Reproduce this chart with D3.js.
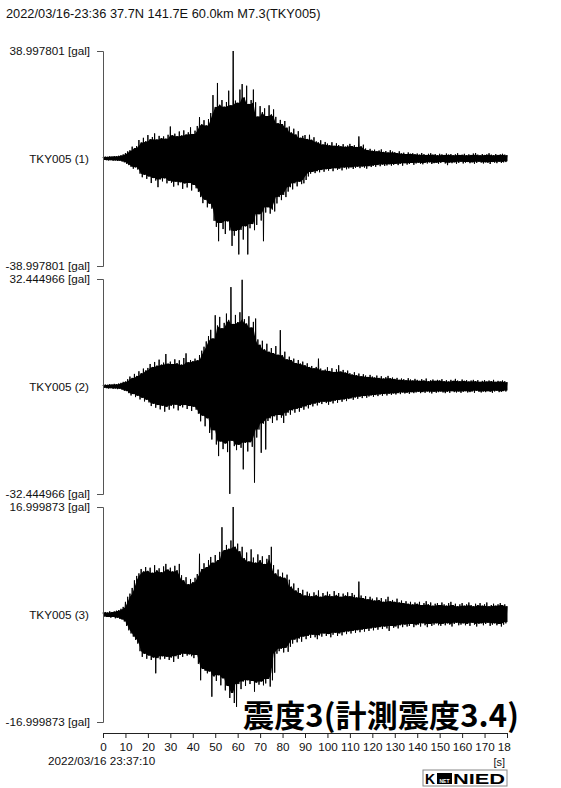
<!DOCTYPE html>
<html>
<head>
<meta charset="utf-8">
<script src="https://cdnjs.cloudflare.com/ajax/libs/d3/7.8.5/d3.min.js"></script>
<style>
  body { margin: 0; background: #fff; }
  svg text { font-family: "Liberation Sans", Arial, sans-serif; fill: #111; }
</style>
</head>
<body>
<div id="chart"></div>
<script>
// header + labels
let titleText = "2022/03/16-23:36 37.7N 141.7E 60.0km M7.3(TKY005)";
let startTime = "2022/03/16 23:37:10";
let intensityText = "震度3(計測震度3.4)";
let channelNames = ["TKY005 (1)", "TKY005 (2)", "TKY005 (3)"];
let channelMax = [38.997801, 32.444966, 16.999873];
let xTicks = [0, 10, 20, 30, 40, 50, 60, 70, 80, 90, 100, 110, 120, 130, 140, 150, 160, 170, 180];

// envelope per second (gal): upper peak and lower peak in each 1 s
let ch1Up = [
  0.5,0.7,0.6,0.8,0.7,0.9,0.8,1.0,1.2,1.5,
  2.0,2.6,3.0,4.3,3.8,4.5,6.7,5.8,7.5,6.2,
  8.5,7.0,7.8,9.1,6.9,8.2,7.4,8.0,7.2,8.6,
  11.6,8.4,9.0,8.1,9.8,8.3,10.2,8.7,9.5,11.3,
  8.9,10.1,11.8,15.0,12.4,13.9,12.0,14.3,16.5,23.0,
  18.7,27.4,19.5,21.2,18.8,20.5,24.6,19.3,39.0,21.0,
  20.2,25.0,27.0,22.1,26.4,19.8,21.2,25.0,20.4,15.2,
  19.0,16.8,18.2,15.4,19.3,16.0,17.8,15.1,12.8,14.0,
  12.5,13.6,11.2,11.6,9.4,10.8,8.7,9.9,7.5,8.2,
  8.5,7.1,8.6,6.8,7.7,6.2,5.8,6.6,5.1,6.0,
  5.4,4.8,5.9,4.6,5.5,4.9,4.4,5.2,4.3,4.7,
  5.3,4.5,4.8,4.2,8.0,4.4,5.0,3.6,3.1,3.5,
  2.8,3.2,2.6,2.9,3.3,2.4,2.7,2.2,3.0,2.5,
  2.3,2.0,2.6,1.8,2.1,1.6,2.2,1.7,1.9,1.5,
  1.8,1.4,2.0,1.6,1.3,1.7,1.9,1.4,1.6,1.2,
  1.7,1.5,1.3,1.8,1.4,1.6,1.2,1.5,1.9,1.3,
  1.4,1.7,1.2,1.5,1.3,1.8,2.0,1.4,1.2,1.6,
  1.3,1.5,1.9,1.4,1.2,1.6,1.3,1.5,1.7,1.4,
  1.2
];
let ch1Low = [
  -0.5,-0.6,-0.7,-0.6,-0.8,-0.7,-0.9,-0.8,-1.1,-1.4,
  -1.9,-2.4,-3.0,-3.7,-3.2,-4.0,-5.5,-6.8,-5.9,-7.4,
  -6.5,-8.9,-7.1,-8.0,-10.4,-7.6,-8.3,-7.2,-9.0,-8.1,
  -8.8,-10.2,-8.4,-9.7,-8.6,-11.0,-9.1,-10.5,-8.9,-11.6,
  -9.6,-10.8,-12.1,-14.0,-16.2,-15.0,-17.7,-16.4,-18.2,-22.6,
  -24.8,-30.0,-23.4,-25.6,-27.4,-22.8,-26.1,-31.7,-28.0,-26.3,
  -34.8,-25.9,-29.4,-24.6,-34.8,-25.3,-23.8,-26.0,-24.1,-20.2,
  -22.5,-30.0,-19.6,-17.7,-20.0,-18.5,-19.2,-16.3,-14.0,-15.1,
  -13.2,-14.0,-12.0,-10.4,-11.2,-9.0,-10.1,-8.4,-9.3,-9.0,
  -7.8,-6.5,-5.5,-4.9,-5.3,-4.6,-5.0,-4.2,-4.8,-3.9,
  -4.4,-3.8,-4.6,-3.5,-4.1,-3.7,-4.3,-3.3,-3.9,-3.6,
  -3.2,-3.8,-3.4,-3.0,-3.5,-2.9,-3.3,-3.7,-2.8,-3.1,
  -2.6,-3.0,-2.4,-2.8,-2.2,-2.7,-2.5,-2.1,-2.6,-2.3,
  -2.0,-2.4,-1.9,-2.6,-1.7,-2.2,-2.0,-1.6,-2.3,-1.8,
  -1.5,-1.9,-2.1,-1.6,-1.8,-1.4,-2.0,-1.7,-1.5,-1.9,
  -1.6,-1.3,-1.8,-2.4,-1.5,-1.7,-1.4,-1.9,-1.6,-1.2,
  -1.8,-1.5,-1.3,-1.7,-1.4,-1.9,-1.6,-1.2,-1.5,-1.8,
  -1.4,-1.6,-2.0,-1.3,-1.5,-1.7,-1.2,-1.6,-1.4,-1.3,
  -1.0
];
let ch2Up = [
  0.4,0.6,0.5,0.7,0.6,0.8,0.7,0.9,1.1,1.4,
  1.5,2.2,3.0,2.6,3.8,3.2,4.6,4.0,5.4,4.8,
  5.6,6.8,5.9,7.4,6.3,8.1,6.6,7.2,9.8,6.9,
  7.5,6.8,8.2,7.0,7.9,6.6,8.6,10.0,7.3,8.0,
  7.6,8.4,7.9,9.5,10.8,12.0,13.6,15.2,17.1,14.5,
  21.5,18.4,21.0,17.6,19.2,22.0,20.1,30.0,18.9,21.6,
  19.4,22.4,32.2,20.3,19.0,21.2,17.8,19.5,20.5,14.2,
  12.6,13.8,11.2,12.9,10.5,11.6,10.1,12.2,9.6,17.0,
  9.4,10.5,8.2,9.0,8.0,8.4,7.1,8.0,6.9,7.5,
  6.4,7.0,5.9,6.2,5.5,5.9,8.4,5.4,4.8,5.1,
  5.8,4.7,5.5,4.4,5.2,6.4,4.5,5.0,4.2,4.8,
  4.0,3.6,4.3,3.4,3.9,3.1,3.7,3.3,2.9,3.5,
  3.0,2.7,3.3,2.6,3.1,2.4,2.8,3.2,2.5,2.7,
  2.3,2.6,2.0,2.4,2.2,1.9,2.5,2.1,1.8,2.3,
  2.0,1.7,2.2,1.8,2.4,1.6,1.9,2.1,1.7,2.0,
  1.8,2.2,1.6,1.9,1.5,2.0,1.7,2.3,1.8,1.6,
  2.1,1.7,1.9,1.5,1.8,2.0,1.6,1.9,1.4,1.7,
  1.9,1.5,1.8,1.6,2.0,1.4,1.7,1.5,1.8,1.6,
  1.3
];
let ch2Low = [
  -0.4,-0.5,-0.6,-0.5,-0.7,-0.6,-0.8,-0.7,-1.0,-1.3,
  -1.4,-2.0,-2.7,-2.3,-3.2,-2.8,-3.9,-3.4,-4.5,-4.0,
  -4.8,-5.9,-5.2,-6.4,-5.6,-6.9,-5.8,-7.6,-6.2,-7.0,
  -5.8,-6.6,-5.5,-7.2,-5.9,-6.3,-5.6,-6.8,-5.9,-7.4,
  -6.1,-7.0,-8.2,-10.5,-8.8,-12.0,-9.6,-14.0,-16.0,-13.2,
  -17.5,-21.0,-16.6,-18.9,-17.2,-19.8,-32.4,-16.4,-18.0,-19.2,
  -17.6,-18.5,-25.0,-17.0,-19.6,-16.8,-18.2,-29.0,-15.4,-13.0,
  -20.0,-11.2,-19.0,-10.4,-9.6,-11.0,-9.0,-10.2,-8.6,-9.4,
  -11.0,-8.8,-7.9,-8.5,-7.2,-7.9,-6.8,-7.6,-6.5,-7.0,
  -6.0,-6.6,-5.6,-6.0,-5.2,-5.7,-4.9,-5.3,-4.6,-5.0,
  -5.5,-4.6,-5.1,-4.3,-4.9,-4.1,-4.6,-3.9,-4.4,-3.8,
  -3.6,-4.0,-3.3,-3.7,-3.1,-3.5,-2.9,-3.4,-3.0,-2.7,
  -3.1,-2.6,-2.9,-2.4,-2.8,-2.3,-2.7,-2.2,-2.5,-2.1,
  -2.4,-2.0,-2.3,-1.8,-2.1,-1.9,-2.2,-1.7,-2.0,-1.8,
  -1.6,-2.0,-1.7,-1.9,-1.5,-1.8,-2.1,-1.6,-1.9,-1.7,
  -1.5,-1.8,-2.0,-1.6,-1.9,-1.4,-1.7,-1.8,-1.5,-1.9,
  -1.6,-1.4,-1.8,-1.7,-1.5,-1.9,-1.3,-1.6,-1.8,-1.5,
  -1.7,-1.4,-1.6,-1.9,-1.5,-1.3,-1.7,-1.6,-1.4,-1.5,
  -1.2
];
let ch3Up = [
  0.3,0.4,0.3,0.5,0.4,0.5,0.6,0.7,0.9,1.2,
  2.0,2.8,3.3,4.2,5.4,6.1,6.5,7.2,6.8,7.5,
  6.9,7.4,6.6,7.8,7.0,7.3,6.7,7.6,8.0,7.1,
  7.4,6.8,7.7,7.0,8.0,6.2,5.4,5.9,4.8,5.6,
  5.1,5.8,6.4,9.6,7.2,8.1,7.5,8.6,9.1,8.2,
  9.4,8.6,9.9,13.8,10.2,11.0,10.4,11.7,17.0,10.7,
  11.2,10.0,10.7,8.9,9.8,8.4,10.3,9.0,8.2,9.5,
  8.6,9.2,8.0,8.8,9.4,10.7,7.8,6.5,7.1,6.0,
  6.6,5.8,6.3,5.5,4.4,4.9,3.8,4.2,3.4,3.9,
  3.0,3.6,3.3,2.9,3.5,3.1,3.8,2.8,3.4,3.0,
  3.6,3.2,2.9,3.7,3.1,3.4,2.8,3.3,3.0,3.5,
  2.9,3.4,3.1,2.7,5.2,3.0,2.6,2.9,2.4,2.8,
  2.5,2.2,2.7,2.3,2.6,2.0,2.4,2.8,2.1,2.3,
  2.0,2.5,1.9,2.2,1.8,2.1,1.7,2.0,1.6,1.9,
  1.7,2.0,1.5,1.8,2.1,1.6,1.9,1.4,1.7,1.8,
  1.5,1.9,1.6,1.4,1.8,2.0,1.5,1.7,1.3,1.6,
  1.8,1.4,1.6,1.9,1.5,1.3,1.7,1.5,1.8,1.4,
  1.6,1.9,1.3,1.5,1.7,1.4,1.6,1.8,1.5,1.6,
  1.3
];
let ch3Low = [
  -0.3,-0.4,-0.4,-0.5,-0.4,-0.6,-0.5,-0.7,-0.8,-1.1,
  -1.8,-2.5,-3.0,-3.5,-4.0,-4.6,-5.8,-6.7,-6.2,-7.0,
  -6.5,-7.2,-6.8,-9.3,-6.9,-7.1,-6.6,-7.0,-6.7,-7.2,
  -6.8,-7.5,-6.6,-7.0,-6.4,-6.7,-6.2,-6.5,-6.3,-6.6,
  -6.9,-6.4,-7.8,-10.4,-8.6,-8.9,-9.3,-9.0,-13.0,-9.8,
  -10.5,-9.6,-11.2,-10.1,-12.0,-11.3,-13.2,-12.4,-14.0,-14.6,
  -11.0,-11.8,-10.6,-11.3,-10.4,-11.0,-10.5,-12.2,-10.8,-11.1,
  -10.6,-11.2,-10.9,-10.2,-11.4,-10.4,-9.2,-6.2,-5.8,-5.4,
  -6.0,-5.3,-5.9,-5.1,-4.6,-4.0,-4.4,-3.8,-4.3,-3.5,
  -3.9,-3.4,-3.7,-3.2,-3.6,-3.9,-3.3,-3.5,-3.0,-3.4,
  -3.1,-3.6,-3.2,-2.9,-3.4,-3.0,-3.3,-2.8,-3.1,-2.7,
  -3.0,-2.6,-2.9,-2.5,-2.8,-2.4,-2.7,-2.3,-2.6,-2.2,
  -2.5,-2.1,-2.4,-2.0,-2.3,-1.9,-2.2,-2.6,-1.8,-2.1,
  -1.9,-2.2,-1.7,-2.0,-1.6,-1.9,-1.8,-1.5,-2.0,-1.7,
  -1.6,-1.9,-1.4,-1.7,-2.0,-1.5,-1.8,-1.6,-1.4,-1.7,
  -1.8,-1.5,-1.7,-1.4,-1.6,-1.9,-1.5,-1.3,-1.7,-1.6,
  -1.4,-1.7,-1.5,-1.8,-1.3,-1.6,-1.9,-1.5,-1.4,-1.7,
  -1.5,-1.3,-1.8,-1.6,-1.4,-1.7,-1.5,-1.9,-1.6,-1.4,
  -1.2
];

let upSeries = [ch1Up, ch2Up, ch3Up];
let lowSeries = [ch1Low, ch2Low, ch3Low];

let width = 561;
let height = 788;
let plotLeft = 103;
let plotRight = 507;
let panelTop = [51, 279, 507];
let panelH = 215;
let axisY = 733;
let labelSize = 11.7;

let svg = d3
  .select("#chart")
  .append("svg")
  .attr("width", width)
  .attr("height", height);

svg.append("text")
  .attr("x", 6)
  .attr("y", 18)
  .attr("font-size", 12.8)
  .text(titleText);

let xScale = d3.scaleLinear().domain([0, 180]).range([plotLeft, plotRight]);

// smallest peak among neighbours: the dense core under the spikes
function coreOf(arr, k, pick) {
  let win = arr.slice(Math.max(0, k - 1), Math.min(arr.length, k + 2));
  return pick(win);
}

// one trace per component
upSeries.forEach(function (up, i) {
  let top = panelTop[i];
  let low = lowSeries[i];
  let yScale = d3
    .scaleLinear()
    .domain([-channelMax[i], channelMax[i]])
    .range([top + panelH, top]);

  let body = d3.area()
    .x(function (d, k) { return xScale(k); })
    .y0(function (d, k) { return yScale(coreOf(low, k, d3.max)); })
    .y1(function (d, k) { return yScale(coreOf(up, k, d3.min)); });

  svg.append("path")
    .datum(up)
    .attr("d", body)
    .attr("fill", "#000");

  // zig-zag between the upper and lower peaks for the spiky edge
  let pts = [];
  up.forEach(function (v, k) {
    pts.push([k, v]);
    pts.push([Math.min(k + 0.5, 180), low[k]]);
  });

  let line = d3.line()
    .x(function (d) { return xScale(d[0]); })
    .y(function (d) { return yScale(d[1]); });

  svg.append("path")
    .datum(pts)
    .attr("d", line)
    .attr("fill", "none")
    .attr("stroke", "#000")
    .attr("stroke-width", 1)
    .attr("stroke-linejoin", "bevel");

  let yAxis = d3.axisLeft(yScale)
    .tickValues([-channelMax[i], channelMax[i]])
    .tickSize(6)
    .tickSizeOuter(6)
    .tickPadding(7)
    .tickFormat(function (d) { return d.toFixed(6) + " [gal]"; });

  let g = svg.append("g")
    .attr("transform", "translate(" + plotLeft + ",0)")
    .call(yAxis);
  g.select(".domain").attr("stroke", "#555");
  g.selectAll(".tick line").attr("stroke", "#555");
  g.selectAll(".tick text")
    .attr("font-size", labelSize)
    .attr("fill", "#111");

  svg.append("text")
    .attr("x", 89)
    .attr("y", yScale(0))
    .attr("dy", "0.35em")
    .attr("text-anchor", "end")
    .attr("font-size", labelSize)
    .text(channelNames[i]);
});

// time axis
svg.append("clipPath").attr("id", "axisClip")
  .append("rect").attr("x", 0).attr("y", 0).attr("width", 511).attr("height", height);

let xAxis = d3.axisBottom(xScale)
  .tickValues(xTicks)
  .tickSize(5)
  .tickSizeOuter(0)
  .tickPadding(5);

let xg = svg.append("g")
  .attr("transform", "translate(0," + axisY + ")")
  .attr("clip-path", "url(#axisClip)")
  .call(xAxis);
xg.select(".domain").attr("stroke", "#222");
xg.selectAll(".tick line").attr("stroke", "#222");
xg.selectAll(".tick text")
  .attr("font-size", labelSize)
  .attr("fill", "#111");

svg.append("text")
  .attr("x", 48)
  .attr("y", 765)
  .attr("font-size", labelSize)
  .text(startTime);

svg.append("text")
  .attr("x", 505)
  .attr("y", 766)
  .attr("text-anchor", "end")
  .attr("font-size", 11)
  .text("[s]");

// seismic intensity caption
svg.append("text")
  .attr("x", 243)
  .attr("y", 727)
  .attr("font-size", 31)
  .attr("font-weight", 700)
  .attr("textLength", 276)
  .style("font-family", "'Noto Sans CJK JP', 'Noto Sans CJK SC', sans-serif")
  .style("fill", "#000")
  .text(intensityText);

// K-NET NIED logo
let logo = svg.append("g");
logo.append("rect")
  .attr("x", 423).attr("y", 770).attr("width", 84).attr("height", 16)
  .attr("fill", "none").attr("stroke", "#888").attr("stroke-width", 1);
logo.append("text")
  .attr("x", 425).attr("y", 784)
  .attr("font-size", 14).attr("font-weight", 700)
  .style("fill", "#000")
  .text("K");
logo.append("rect")
  .attr("x", 437).attr("y", 773).attr("width", 15).attr("height", 11)
  .attr("fill", "#000");
logo.append("text")
  .attr("x", 444.5).attr("y", 782.5)
  .attr("text-anchor", "middle")
  .attr("font-size", 5).attr("font-weight", 700)
  .style("fill", "#fff")
  .text("NET");
logo.append("text")
  .attr("x", 453).attr("y", 784)
  .attr("font-size", 15).attr("font-weight", 700)
  .attr("textLength", 52)
  .attr("lengthAdjust", "spacingAndGlyphs")
  .style("fill", "#000")
  .text("NIED");
</script>
</body>
</html>
